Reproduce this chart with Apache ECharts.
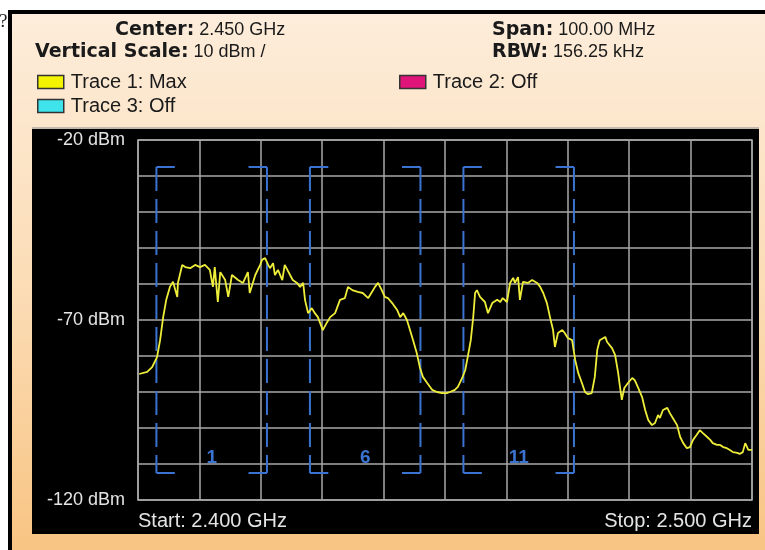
<!DOCTYPE html>
<html>
<head>
<meta charset="utf-8">
<script src="https://cdn.jsdelivr.net/npm/echarts@6/dist/echarts.min.js"></script>
<style>
  html, body { margin: 0; padding: 0; background: #fff; }
  #main { width: 765px; height: 550px; }
</style>
</head>
<body>
<div id="main"></div>
<script>
// trace 1 (max hold)
var freqMHz = [
  2400.2, 2401.5, 2402.3, 2403.1, 2403.6, 2404.1, 2404.6, 2405.2, 2405.7, 2406.4,
  2406.5, 2407.2, 2407.7, 2408.5, 2409.3, 2410.1, 2410.9, 2411.7, 2412.2, 2412.5,
  2413.0, 2413.4, 2414.2, 2414.7, 2415.3, 2416.3, 2417.1, 2417.9, 2418.2, 2419.1,
  2419.9, 2420.2, 2420.7, 2421.2, 2421.5, 2422.0, 2422.3, 2422.8, 2423.5, 2423.9,
  2425.2, 2425.9, 2426.4, 2426.9, 2427.2, 2427.7, 2428.3, 2428.8, 2429.3, 2430.1,
  2430.8, 2431.3, 2432.1, 2432.9, 2433.7, 2434.2, 2434.9, 2435.8, 2436.6, 2437.5,
  2438.1, 2438.6, 2439.1, 2439.7, 2440.2, 2440.7, 2441.4, 2442.2, 2442.7, 2443.2,
  2443.8, 2444.3, 2444.8, 2445.4, 2445.9, 2446.4, 2447.1, 2447.9, 2448.7, 2449.5,
  2450.3, 2450.8, 2451.6, 2452.1, 2452.8, 2453.3, 2453.7, 2454.2, 2454.6, 2454.9,
  2455.2, 2455.7, 2456.5, 2457.0, 2457.7, 2458.5, 2459.0, 2459.4, 2460.1, 2460.6,
  2461.1, 2461.4, 2461.9, 2462.2, 2462.7, 2463.5, 2464.2, 2465.0, 2465.5, 2466.0,
  2466.6, 2467.1, 2467.6, 2467.9, 2468.4, 2469.1, 2469.5, 2470.0, 2470.7, 2471.2,
  2471.7, 2472.3, 2472.8, 2473.3, 2473.9, 2474.4, 2474.8, 2475.2, 2476.1, 2476.4,
  2477.2, 2477.7, 2478.2, 2478.5, 2478.8, 2479.2, 2479.8, 2480.5, 2480.9, 2481.4,
  2482.1, 2482.6, 2483.1, 2483.7, 2484.2, 2484.7, 2485.0, 2485.5, 2486.2, 2486.6,
  2487.1, 2487.8, 2488.3, 2488.8, 2489.4, 2489.9, 2490.4, 2491.0, 2491.5, 2492.0,
  2492.7, 2493.2, 2493.6, 2494.3, 2494.8, 2495.3, 2495.9, 2496.4, 2496.9, 2497.6,
  2498.0, 2498.5, 2498.9, 2499.4, 2500.0
];
var levelDbm = [
  -85.0, -84.4, -83.1, -80.3, -75.6, -69.2, -64.4, -60.8, -59.4, -63.6,
  -59.7, -54.7, -55.3, -55.6, -54.7, -55.3, -54.7, -56.1, -60.8, -55.3,
  -65.0, -56.7, -58.9, -63.6, -57.5, -58.9, -59.7, -56.7, -62.5, -57.5,
  -54.7, -53.3, -52.8, -54.7, -55.6, -54.2, -57.5, -56.1, -58.9, -54.7,
  -58.9, -59.7, -60.8, -59.7, -64.4, -68.1, -66.7, -68.1, -69.2, -72.8,
  -70.6, -69.2, -68.1, -64.4, -63.9, -60.8, -61.7, -62.2, -62.5, -63.9,
  -62.2, -60.8, -59.7, -61.7, -63.6, -63.9, -65.3, -67.2, -69.2, -68.1,
  -70.0, -72.8, -75.6, -79.2, -83.1, -85.8, -87.5, -89.4, -90.0, -90.3,
  -90.3, -90.0, -89.4, -88.6, -86.1, -83.9, -80.3, -75.6, -69.2, -62.5,
  -61.7, -63.6, -65.0, -68.1, -65.3, -64.4, -65.0, -63.9, -65.0, -59.7,
  -58.3, -59.7, -58.1, -64.4, -59.4, -59.7, -58.9, -59.7, -60.8, -62.5,
  -65.3, -69.2, -72.8, -77.5, -73.6, -72.8, -73.6, -75.0, -75.6, -81.1,
  -84.7, -87.5, -90.0, -90.6, -90.3, -85.8, -78.3, -75.6, -74.7, -76.1,
  -77.8, -79.7, -84.7, -88.6, -92.2, -88.9, -87.5, -86.1, -86.7, -88.6,
  -91.4, -95.0, -97.8, -99.2, -98.6, -96.4, -97.2, -95.0, -94.4, -95.8,
  -97.2, -99.2, -102.5, -104.2, -105.6, -105.3, -103.3, -101.9, -100.6, -101.4,
  -102.5, -103.3, -104.2, -104.7, -104.7, -105.3, -105.6, -106.1, -106.7, -106.9,
  -107.2, -106.7, -104.2, -106.1, -106.1
];

// wifi channel overlays
var chanNames = ['1', '6', '11'];
var chanCenters = [2412, 2437, 2462];

// which y ticks get a label
var yLabelValues = [-20, -70, -120];

var traceNames = ['Trace 1: Max', 'Trace 2: Off', 'Trace 3: Off'];
var traceColors = ['#f4f400', '#e0157a', '#3fe3ec'];

var chart = echarts.init(document.getElementById('main'));

var blue = '#3a74d0';
var font = "'Liberation Sans', Arial, sans-serif";

function renderBracket(params, api) {
  var c = api.value(0);
  var half = 9, top = -27.5, bot = -112.5, tick = 3;
  var tl = api.coord([c - half, top]);
  var bl = api.coord([c - half, bot]);
  var tr = api.coord([c + half, top]);
  var br = api.coord([c + half, bot]);
  var tk = api.coord([c - half + tick, top])[0] - tl[0];
  var lbl = api.coord([c, -108.3]);
  var solid = { stroke: blue, lineWidth: 2 };
  var dashed = { stroke: blue, lineWidth: 2, lineDash: [24, 8] };
  return {
    type: 'group',
    children: [
      { type: 'line', shape: { x1: tl[0], y1: tl[1], x2: bl[0], y2: bl[1] }, style: dashed },
      { type: 'line', shape: { x1: tr[0], y1: tr[1], x2: br[0], y2: br[1] }, style: dashed },
      { type: 'line', shape: { x1: tl[0], y1: tl[1], x2: tl[0] + tk, y2: tl[1] }, style: solid },
      { type: 'line', shape: { x1: bl[0], y1: bl[1], x2: bl[0] + tk, y2: bl[1] }, style: solid },
      { type: 'line', shape: { x1: tr[0] - tk, y1: tr[1], x2: tr[0], y2: tr[1] }, style: solid },
      { type: 'line', shape: { x1: br[0] - tk, y1: br[1], x2: br[0], y2: br[1] }, style: solid },
      {
        type: 'text',
        x: lbl[0], y: lbl[1],
        style: {
          text: chanNames[params.dataIndex],
          fill: blue, font: 'bold 19px ' + font,
          align: 'center', verticalAlign: 'middle'
        }
      }
    ]
  };
}

var headerRich = {
  b: { fontWeight: 'bold', fontSize: 19, fontFamily: "'DejaVu Sans', sans-serif", fill: '#1a1a1a', color: '#1a1a1a' },
  n: { fontSize: 18, fontFamily: font, fill: '#1a1a1a', color: '#1a1a1a' }
};

chart.setOption({
  animation: false,
  backgroundColor: '#ffffff',
  graphic: [
    // cut-off quiz question mark on the left
    { type: 'text', left: -1, top: 13, z: -10, style: { text: '?', font: '19px "Liberation Serif", serif', fill: '#222' } },
    // beige instrument window with black border
    {
      type: 'rect', z: -10,
      shape: { x: 10, y: 12, width: 770, height: 560 },
      style: {
        stroke: '#000', lineWidth: 4,
        fill: new echarts.graphic.LinearGradient(0, 0, 0, 1, [
          { offset: 0, color: '#fdeddb' },
          { offset: 0.5, color: '#fbdcb5' },
          { offset: 1, color: '#f8c27e' }
        ])
      }
    },
    // black plot panel
    { type: 'rect', z: -9, shape: { x: 32, y: 129, width: 727, height: 405 }, style: { fill: '#000' } },
    { type: 'line', z: -9, shape: { x1: 32, y1: 128, x2: 759, y2: 128 }, style: { stroke: '#8a8a8a', lineWidth: 1 } },
    // header lines
    { type: 'text', left: 115, top: 21, style: { text: '{b|Center:}{n| 2.450 GHz}', rich: headerRich } },
    { type: 'text', left: 35, top: 43, style: { text: '{b|Vertical Scale:}{n| 10 dBm /}', rich: headerRich } },
    { type: 'text', left: 492, top: 21, style: { text: '{b|Span:}{n| 100.00 MHz}', rich: headerRich } },
    { type: 'text', left: 492, top: 43, style: { text: '{b|RBW:}{n| 156.25 kHz}', rich: headerRich } }
  ],
  legend: [
    { data: [traceNames[0]], left: 37, top: 72 },
    { data: [traceNames[1]], left: 399, top: 72 },
    { data: [traceNames[2]], left: 37, top: 96 }
  ].map(function (l) {
    return Object.assign({
      icon: 'rect', itemWidth: 26, itemHeight: 13, padding: 0,
      itemStyle: { borderColor: '#333', borderWidth: 1.5 },
      textStyle: { color: '#1a1a1a', fontSize: 20, fontFamily: font, padding: [0, 0, 0, 2] },
      selectedMode: false
    }, l);
  }),
  grid: {
    left: 138, top: 140, width: 614, height: 360,
    show: true, borderColor: '#a8a8a8', borderWidth: 1.5
  },
  xAxis: {
    type: 'value', min: 2400, max: 2500, interval: 10,
    axisLine: { show: false }, axisTick: { show: false },
    splitLine: { show: true, lineStyle: { color: '#a8a8a8', width: 1.5 } },
    axisLabel: {
      margin: 11, color: '#e4e4e4', fontSize: 20, fontFamily: font,
      alignMinLabel: 'left', alignMaxLabel: 'right',
      formatter: function (v) {
        if (v === 2400) return 'Start: ' + (v / 1000).toFixed(3) + ' GHz';
        if (v === 2500) return 'Stop: ' + (v / 1000).toFixed(3) + ' GHz';
        return '';
      }
    }
  },
  yAxis: {
    type: 'value', min: -120, max: -20, interval: 10,
    axisLine: { show: false }, axisTick: { show: false },
    splitLine: { show: true, lineStyle: { color: '#a8a8a8', width: 1.5 } },
    axisLabel: {
      margin: 13, color: '#e4e4e4', fontSize: 18, fontFamily: font,
      formatter: function (v) {
        return yLabelValues.indexOf(v) >= 0 ? v + ' dBm' : '';
      }
    }
  },
  series: [
    {
      name: traceNames[0], type: 'line', color: traceColors[0],
      data: freqMHz.map(function (f, i) { return [f, levelDbm[i]]; }),
      showSymbol: false, symbol: 'none',
      lineStyle: { color: '#eeee3a', width: 1.8 },
      z: 5
    },
    { name: traceNames[1], type: 'line', color: traceColors[1], data: [] },
    { name: traceNames[2], type: 'line', color: traceColors[2], data: [] },
    {
      type: 'custom', renderItem: renderBracket, clip: false, silent: true,
      data: chanCenters.map(function (c) { return [c, -70]; }),
      encode: { x: 0, y: 1 },
      z: 3
    }
  ]
});
</script>
</body>
</html>
